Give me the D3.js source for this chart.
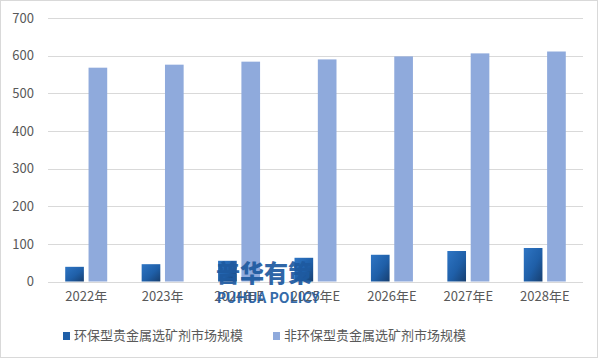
<!DOCTYPE html>
<html>
<head>
<meta charset="utf-8">
<script src="https://cdn.jsdelivr.net/npm/d3@7"></script>
<style>
  body { margin: 0; background: #fff; }
  svg text { font-family: "Noto Sans CJK SC", "Noto Sans", sans-serif; }
</style>
</head>
<body>
<div class="chart"></div>
<script>
// Chart data
const years = ["2022年", "2023年", "2024年E", "2025年E", "2026年E", "2027年E", "2028年E"];
const seriesNames = ["环保型贵金属选矿剂市场规模", "非环保型贵金属选矿剂市场规模"];
const ecoValues = [39, 46, 55, 63, 71, 81, 89];
const nonEcoValues = [568, 576, 584, 590, 598, 606, 611];
const yTicks = [0, 100, 200, 300, 400, 500, 600, 700];

function createChart(containerSelector) {
    const W = 601, H = 361;
    const margin = { top: 18, right: 18, bottom: 80, left: 48 },
          width = W - margin.left - margin.right,
          height = 281.5 - margin.top;

    const root = d3.select(containerSelector)
        .append("svg")
        .attr("width", W)
        .attr("height", H);

    // Outer border
    root.append("rect")
        .attr("x", 0.5).attr("y", 0.5)
        .attr("width", W - 4).attr("height", H - 4)
        .attr("fill", "#fff")
        .attr("stroke", "#d9d9d9");

    // Gradient for the dark bars
    const grad = root.append("defs").append("linearGradient")
        .attr("id", "darkGrad")
        .attr("x1", "0").attr("y1", "0").attr("x2", "1").attr("y2", "1");
    grad.append("stop").attr("offset", "0%").attr("stop-color", "#2e75c4");
    grad.append("stop").attr("offset", "55%").attr("stop-color", "#1f5fa8");
    grad.append("stop").attr("offset", "100%").attr("stop-color", "#173f70");

    const svg = root.append("g")
        .attr("transform", `translate(${margin.left},${margin.top})`);

    const x = d3.scaleBand()
        .domain(years)
        .range([0, width]);

    const inner = d3.scaleBand()
        .domain([0, 1])
        .range([x.bandwidth() / 2 - 21, x.bandwidth() / 2 + 21])
        .paddingInner(0.2);

    const y = d3.scaleLinear()
        .domain([0, 700])
        .range([height, 0]);

    // Gridlines
    svg.append("g")
        .selectAll("line")
        .data(yTicks)
        .enter()
        .append("line")
        .attr("x1", 0).attr("x2", width)
        .attr("y1", d => Math.round(y(d)) + 0.5)
        .attr("y2", d => Math.round(y(d)) + 0.5)
        .attr("stroke", "#d9d9d9");

    // Y axis labels
    const yAxis = svg.append("g")
        .call(d3.axisLeft(y).tickValues(yTicks).tickSize(0).tickPadding(14));
    yAxis.select(".domain").remove();
    yAxis.selectAll("text")
        .attr("font-size", "13px")
        .attr("fill", "#595959")
        .style("font-family", "\"Noto Sans CJK SC\", sans-serif");

    // X axis labels
    const xAxis = svg.append("g")
        .attr("transform", `translate(0,${height})`)
        .call(d3.axisBottom(x).tickSize(0).tickPadding(10));
    xAxis.select(".domain").remove();
    xAxis.selectAll("text")
        .attr("font-size", "13px")
        .attr("fill", "#595959")
        .style("font-family", "\"Noto Sans CJK SC\", sans-serif");

    // Bars
    const groups = svg.selectAll(".grp")
        .data(years)
        .enter()
        .append("g")
        .attr("transform", d => `translate(${x(d)},0)`);

    groups.append("rect")
        .attr("x", inner(0))
        .attr("y", (d, i) => y(ecoValues[i]))
        .attr("width", inner.bandwidth())
        .attr("height", (d, i) => height - y(ecoValues[i]))
        .attr("fill", "url(#darkGrad)");

    groups.append("rect")
        .attr("x", inner(1))
        .attr("y", (d, i) => y(nonEcoValues[i]))
        .attr("width", inner.bandwidth())
        .attr("height", (d, i) => height - y(nonEcoValues[i]))
        .attr("fill", "#8faadc");

    // Watermark (sits over the axis labels, as in the original)
    root.append("text")
        .attr("x", 264).attr("y", 282)
        .attr("text-anchor", "middle")
        .attr("font-size", "24px")
        .attr("font-weight", "900")
        .attr("fill", "#1e5aa0")
        .attr("opacity", 0.92)
        .text("普华有策");
    root.append("text")
        .attr("x", 268).attr("y", 303)
        .attr("text-anchor", "middle")
        .attr("font-size", "14px")
        .attr("font-weight", "bold")
        .attr("fill", "#1e5aa0")
        .attr("opacity", 0.9)
        .text("PUHUA POLICY");

    // Legend
    const legendX = [63, 273];
    const legend = root.selectAll(".legend")
        .data(seriesNames)
        .enter()
        .append("g")
        .attr("transform", (d, i) => `translate(${legendX[i]},332)`);
    legend.append("rect")
        .attr("width", 7).attr("height", 8)
        .attr("fill", (d, i) => i === 0 ? "#1f5fa8" : "#8faadc");
    legend.append("text")
        .attr("x", 11).attr("y", 4)
        .attr("dominant-baseline", "middle")
        .attr("font-size", "13px")
        .attr("fill", "#595959")
        .text(d => d);
}

createChart(".chart");
</script>
</body>
</html>
